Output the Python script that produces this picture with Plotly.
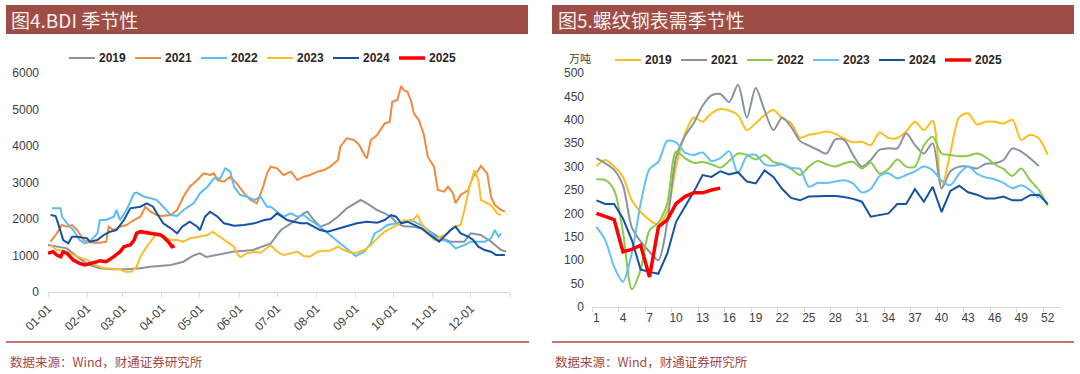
import pandas as pd
import plotly.graph_objects as go

# ---------------- Left chart: BDI seasonal (day-of-year, index value) ----------------
bdi_years = ["2019", "2021", "2022", "2023", "2024", "2025"]

bdi_2019_day = [0, 15, 23, 31, 41, 49, 62, 73, 81, 89, 97, 107, 115, 120, 125, 131, 146, 162, 173, 176,
                184, 192, 202, 205, 210, 215, 222, 229, 236, 242, 247, 252, 260, 266, 271, 276, 281, 289,
                300, 308, 318, 329, 334, 342, 350, 358, 362]
bdi_2019_val = [1290, 1196, 970, 767, 648, 621, 621, 648, 694, 712, 740, 830, 1000, 1060, 960, 1000, 1100,
                1150, 1290, 1333, 1698, 1881, 2155, 2200, 1972, 1789, 1881, 2063, 2292, 2429, 2520, 2429,
                2246, 2155, 2063, 1881, 1800, 1790, 1698, 1516, 1379, 1379, 1607, 1561, 1379, 1150, 1105]

bdi_2021_day = [2, 7, 11, 15, 19, 23, 28, 35, 41, 46, 48, 52, 57, 62, 68, 73, 77, 81, 86, 90,
                97, 102, 107, 112, 118, 123, 128, 131, 134, 139, 144, 149, 155, 160, 165, 170, 173, 176,
                181, 186, 192, 197, 202, 207, 213, 218, 223, 229, 231, 236, 242, 246, 250, 252, 255, 260,
                266, 270, 272, 276, 279, 281, 284, 287, 289, 293, 297, 300, 305, 308, 313, 316, 320, 322,
                326, 332, 334, 336, 340, 342, 347, 350, 353, 358, 361]
bdi_2021_val = [1379, 1607, 1835, 1789, 1835, 1698, 1424, 1351, 1351, 1379, 1789, 1698, 1789, 1835, 1972,
                2063, 2337, 2200, 2109, 2082, 2109, 2246, 2611, 2885, 3068, 3250, 3205, 3250, 3068, 3022,
                3159, 2976, 2702, 2520, 2429, 2885, 3250, 3433, 3387, 3205, 3296, 3068, 3159, 3205, 3296,
                3342, 3433, 3615, 3981, 4209, 4163, 4026, 3752, 3661, 4163, 4300, 4620, 4666, 5213, 5259,
                5642, 5533, 5487, 5213, 4894, 4711, 4300, 3707, 3433, 2794, 2748, 2885, 2702, 2429, 2657,
                2794, 3000, 3159, 3342, 3451, 3250, 2611, 2383, 2246, 2200]

bdi_2022_day = [3, 10, 11, 15, 20, 25, 29, 33, 39, 41, 46, 52, 54, 57, 62, 68, 70, 76, 81, 86,
                91, 97, 102, 107, 115, 120, 126, 131, 136, 140, 144, 147, 152, 157, 163, 168, 173, 176,
                181, 186, 192, 197, 202, 207, 213, 218, 223, 229, 234, 239, 243, 250, 255, 258, 263, 268,
                276, 281, 287, 292, 297, 303, 308, 313, 318, 322, 329, 334, 340, 345, 350, 353, 356, 358]
bdi_2022_val = [2292, 2292, 2063, 1881, 1698, 1424, 1333, 1379, 1607, 1972, 1972, 2063, 2246, 1972, 2246,
                2702, 2721, 2611, 2566, 2520, 2337, 2109, 2082, 2246, 2429, 2702, 2885, 3113, 3113, 3387,
                3296, 2885, 2657, 2611, 2520, 2611, 2337, 2337, 2200, 2063, 2155, 2063, 2109, 1972, 1835,
                1698, 1561, 1379, 1242, 1105, 986, 1105, 1333, 1607, 1698, 1835, 1881, 1926, 1972, 1881,
                1789, 1607, 1424, 1424, 1333, 1196, 1287, 1379, 1379, 1379, 1470, 1698, 1516, 1607]

bdi_2023_day = [2, 7, 15, 23, 31, 36, 44, 52, 57, 61, 66, 70, 73, 78, 83, 86, 91, 97, 102, 107,
                112, 118, 126, 130, 134, 139, 144, 147, 149, 152, 157, 163, 168, 173, 176, 181, 186, 192,
                197, 202, 207, 213, 218, 223, 229, 234, 239, 244, 250, 255, 260, 266, 271, 276, 281, 287,
                292, 295, 300, 305, 310, 316, 321, 326, 329, 333, 337, 340, 342, 345, 350, 355, 358]
bdi_2023_val = [1287, 1150, 1105, 968, 876, 767, 648, 621, 621, 557, 557, 694, 968, 1242, 1470, 1607,
                1516, 1424, 1424, 1379, 1470, 1516, 1561, 1653, 1561, 1424, 1333, 1242, 1059, 950, 1059,
                1105, 1077, 1196, 1287, 1105, 1013, 1059, 1105, 986, 968, 1105, 1132, 1132, 1242, 1150,
                1077, 1077, 1150, 1287, 1470, 1653, 1744, 1835, 1972, 1926, 2109, 1881, 1653, 1424, 1516,
                1607, 1789, 1835, 2246, 2885, 3342, 3068, 2520, 2474, 2383, 2155, 2109]

bdi_2024_day = [2, 6, 8, 12, 16, 19, 23, 31, 33, 39, 44, 49, 54, 60, 65, 73, 78, 83, 86, 91,
                97, 102, 106, 110, 112, 118, 120, 124, 128, 134, 139, 147, 155, 163, 171, 176, 181, 185,
                189, 194, 200, 205, 210, 215, 221, 226, 231, 236, 244, 252, 260, 266, 271, 275, 279, 284,
                289, 295, 300, 305, 309, 313, 318, 322, 326, 332, 336, 340, 345, 350, 354, 361]
bdi_2024_val = [2109, 2082, 1881, 1424, 1333, 1516, 1516, 1470, 1379, 1424, 1561, 1653, 1698, 1972, 2292,
                2337, 2429, 2337, 2155, 1881, 1744, 1607, 1789, 1881, 1926, 1789, 1698, 2063, 2200, 2063,
                1881, 1817, 1835, 1881, 1972, 2000, 2155, 2063, 1972, 1926, 1881, 1881, 1789, 1698, 1653,
                1698, 1744, 1789, 1881, 1926, 1899, 1972, 2109, 2063, 1881, 1926, 1835, 1744, 1607, 1470,
                1379, 1516, 1698, 1789, 1607, 1516, 1424, 1242, 1150, 1105, 1013, 1013]

bdi_2025_day = [0, 4, 7, 10, 12, 15, 20, 25, 29, 33, 39, 41, 44, 46, 52, 57, 60, 65, 68, 70,
                73, 78, 83, 89, 91, 95, 98, 100]
bdi_2025_val = [1059, 1105, 1013, 968, 1105, 1059, 876, 785, 740, 767, 831, 858, 831, 831, 968, 1105,
                1242, 1287, 1424, 1607, 1653, 1625, 1607, 1561, 1516, 1379, 1242, 1260]

bdi_month_ticks = ["01-01", "02-01", "03-01", "04-01", "05-01", "06-01",
                   "07-01", "08-01", "09-01", "10-01", "11-01", "12-01"]

# ---------------- Right chart: rebar apparent demand, by week (万吨) ----------------
rebar_years = ["2019", "2021", "2022", "2023", "2024", "2025"]

rebar_2019 = [301, 314, 300, 278, 228, 203, 186, 176, 205, 300, 370, 405, 396, 414, 423, 420, 410, 378,
              393, 410, 421, 403, 393, 362, 368, 371, 375, 370, 360, 352, 353, 346, 373, 361, 361, 375,
              396, 378, 398, 255, 330, 405, 414, 390, 396, 396, 392, 400, 357, 368, 360, 325]
rebar_2021 = [318, 307, 293, 260, 170, 140, 118, 100, 180, 320, 365, 393, 430, 452, 455, 438, 475, 405,
              468, 420, 378, 405, 385, 355, 345, 336, 328, 358, 357, 325, 300, 314, 336, 339, 339, 371,
              346, 328, 350, 253, 290, 300, 300, 296, 306, 307, 314, 339, 332, 318, 301]
rebar_2022 = [273, 271, 250, 160, 38, 80, 164, 180, 221, 332, 318, 308, 310, 305, 298, 312, 328, 325,
              315, 325, 310, 305, 295, 282, 300, 312, 305, 300, 307, 310, 296, 308, 285, 295, 315, 300,
              300, 345, 364, 328, 325, 322, 323, 328, 320, 305, 295, 280, 296, 271, 250, 216]
rebar_2023 = [171, 143, 86, 54, 115, 221, 295, 310, 355, 352, 330, 325, 330, 312, 318, 333, 286, 322,
              325, 305, 302, 305, 297, 295, 257, 265, 265, 268, 271, 264, 245, 252, 280, 286, 275, 282,
              290, 300, 292, 270, 260, 285, 300, 285, 277, 273, 265, 254, 260, 250, 232]
rebar_2024 = [228, 220, 220, 189, 143, 80, 75, 71, 114, 182, 214, 246, 282, 278, 290, 283, 288, 268,
              264, 292, 278, 252, 233, 228, 236, 237, 237, 237, 235, 231, 225, 193, 197, 200, 220, 220,
              252, 225, 257, 203, 248, 259, 245, 240, 232, 232, 236, 228, 228, 239, 240, 220]
rebar_2025 = [200, 193, 187, 118, 123, 132, 64, 171, 186, 221, 236, 244, 244, 250, 254]

rebar_week_ticks = list(range(1, 53, 3))

# ---------------- Styling ----------------
bdi_colors = {"2019": "#8a93a3", "2021": "#f08a3e", "2022": "#5cbcf5",
              "2023": "#fbbd2c", "2024": "#1652a3", "2025": "#ff0000"}
rebar_colors = {"2019": "#fbbf1c", "2021": "#8a93a3", "2022": "#8cc84b",
                "2023": "#62c0f6", "2024": "#1652a3", "2025": "#ff0000"}

W, H = 1080, 374
def px(x):
    return x / W
def py(y):
    return 1 - y / H

base = pd.Timestamp("2021-01-01")
def to_dates(days):
    return [base + pd.Timedelta(days=int(d)) for d in days]

bdi_data = {
    "2019": (bdi_2019_day, bdi_2019_val),
    "2021": (bdi_2021_day, bdi_2021_val),
    "2022": (bdi_2022_day, bdi_2022_val),
    "2023": (bdi_2023_day, bdi_2023_val),
    "2024": (bdi_2024_day, bdi_2024_val),
    "2025": (bdi_2025_day, bdi_2025_val),
}
rebar_data = {
    "2019": rebar_2019, "2021": rebar_2021, "2022": rebar_2022,
    "2023": rebar_2023, "2024": rebar_2024, "2025": rebar_2025,
}

fig = go.Figure()

for yr in bdi_years:
    d, v = bdi_data[yr]
    fig.add_trace(go.Scatter(
        x=to_dates(d), y=v, mode="lines", name=yr, showlegend=False,
        line=dict(color=bdi_colors[yr], width=3.5 if yr == "2025" else 2),
        xaxis="x", yaxis="y",
    ))

for yr in rebar_years:
    v = rebar_data[yr]
    smooth = yr not in ("2024", "2025")
    fig.add_trace(go.Scatter(
        x=list(range(1, len(v) + 1)), y=v, mode="lines", name=yr, showlegend=False,
        line=dict(color=rebar_colors[yr], width=3.5 if yr == "2025" else 2,
                  shape="spline" if smooth else "linear", smoothing=0.8),
        xaxis="x2", yaxis="y2",
    ))

tick_font = dict(family="Liberation Sans, Arial, sans-serif", size=12, color="#404040")
axis_grey = "#d9d9d9"

month_vals = [base + pd.DateOffset(months=i) for i in range(12)]

fig.update_layout(
    width=W, height=H, autosize=False,
    margin=dict(l=0, r=0, t=0, b=0, pad=0, autoexpand=False),
    paper_bgcolor="white", plot_bgcolor="white",
    showlegend=False,
    xaxis=dict(
        domain=[px(48), px(510)], type="date",
        range=[base, base + pd.Timedelta(days=365)],
        tickvals=month_vals, ticktext=bdi_month_ticks, tickangle=-45,
        ticks="outside", ticklen=4, tickcolor=axis_grey,
        minor=dict(ticks="outside", ticklen=4, tickcolor=axis_grey,
                   tick0=base, dtick="M1"),
        showline=True, linecolor=axis_grey, linewidth=1,
        showgrid=False, zeroline=False, tickfont=tick_font, anchor="y",
        automargin=False,
    ),
    yaxis=dict(
        domain=[py(292), py(73)], range=[0, 6000], dtick=1000,
        showgrid=False, zeroline=False, showline=False, ticks="",
        ticklabelstandoff=8,
        tickfont=tick_font, anchor="x", automargin=False,
    ),
    xaxis2=dict(
        domain=[px(592), px(1061)], range=[0.5, 53.5],
        tickvals=rebar_week_ticks, ticks="",
        minor=dict(ticks="outside", ticklen=4, tickcolor=axis_grey, tick0=0.5, dtick=3),
        showline=True, linecolor=axis_grey, linewidth=1,
        showgrid=False, zeroline=False, tickfont=tick_font, anchor="y2",
        automargin=False,
    ),
    yaxis2=dict(
        domain=[py(307), py(73)], range=[0, 500], dtick=50,
        showgrid=False, zeroline=False, showline=False, ticks="",
        ticklabelstandoff=7,
        tickfont=tick_font, anchor="x2", automargin=False,
    ),
)

bar_color = "#9e4d46"
line_red = "#b7473f"
shapes = [
    dict(type="rect", xref="paper", yref="paper", x0=px(6), x1=px(528), y0=py(34), y1=py(5),
         fillcolor=bar_color, line=dict(width=0), layer="below"),
    dict(type="rect", xref="paper", yref="paper", x0=px(552), x1=px(1074), y0=py(34), y1=py(5),
         fillcolor=bar_color, line=dict(width=0), layer="below"),
    dict(type="line", xref="paper", yref="paper", x0=px(6), x1=px(529), y0=py(342), y1=py(342),
         line=dict(color=line_red, width=1.5)),
    dict(type="line", xref="paper", yref="paper", x0=px(552), x1=px(1074), y0=py(342), y1=py(342),
         line=dict(color=line_red, width=1.5)),
]

title_font = dict(family="Noto Sans CJK SC, sans-serif", size=19, color="#f7efe9")
src_font = dict(family="Noto Sans CJK SC, serif", size=12.5, color="#a6483f")
legend_font = dict(family="Liberation Sans, Arial, sans-serif", size=12, color="#262626", weight="bold")
annotations = [
    dict(text="图4.BDI 季节性", x=px(9), y=py(19.5), xref="paper", yref="paper",
         xanchor="left", yanchor="middle", showarrow=False, font=title_font),
    dict(text="图5.螺纹钢表需季节性", x=px(556), y=py(19.5), xref="paper", yref="paper",
         xanchor="left", yanchor="middle", showarrow=False, font=title_font),
    dict(text="数据来源：Wind，财通证券研究所", x=px(8), y=py(361), xref="paper", yref="paper",
         xanchor="left", yanchor="middle", showarrow=False, font=src_font),
    dict(text="数据来源：Wind，财通证券研究所", x=px(553), y=py(361), xref="paper", yref="paper",
         xanchor="left", yanchor="middle", showarrow=False, font=src_font),
    dict(text="万吨", x=px(580), y=py(58), xref="paper", yref="paper",
         xanchor="center", yanchor="middle", showarrow=False,
         font=dict(family="Noto Sans CJK SC, sans-serif", size=11, color="#404040")),
]

# hand-placed legends (one per panel)
def add_legend(years, colors, x_start, y_pix, step=66):
    for i, yr in enumerate(years):
        x0 = x_start + i * step
        shapes.append(dict(type="line", xref="paper", yref="paper",
                           x0=px(x0), x1=px(x0 + 26), y0=py(y_pix), y1=py(y_pix),
                           line=dict(color=colors[yr], width=3.5 if yr == "2025" else 2)))
        annotations.append(dict(text=yr, x=px(x0 + 28), y=py(y_pix), xref="paper", yref="paper",
                                xanchor="left", yanchor="middle", showarrow=False, font=legend_font))

add_legend(bdi_years, bdi_colors, 69, 58)
add_legend(rebar_years, rebar_colors, 615, 60)

fig.update_layout(shapes=shapes, annotations=annotations)

fig.write_html(
    "out.html",
    config={"displayModeBar": False, "staticPlot": True},
    post_script="document.body.style.margin='0';document.body.style.overflow='hidden';",
)
